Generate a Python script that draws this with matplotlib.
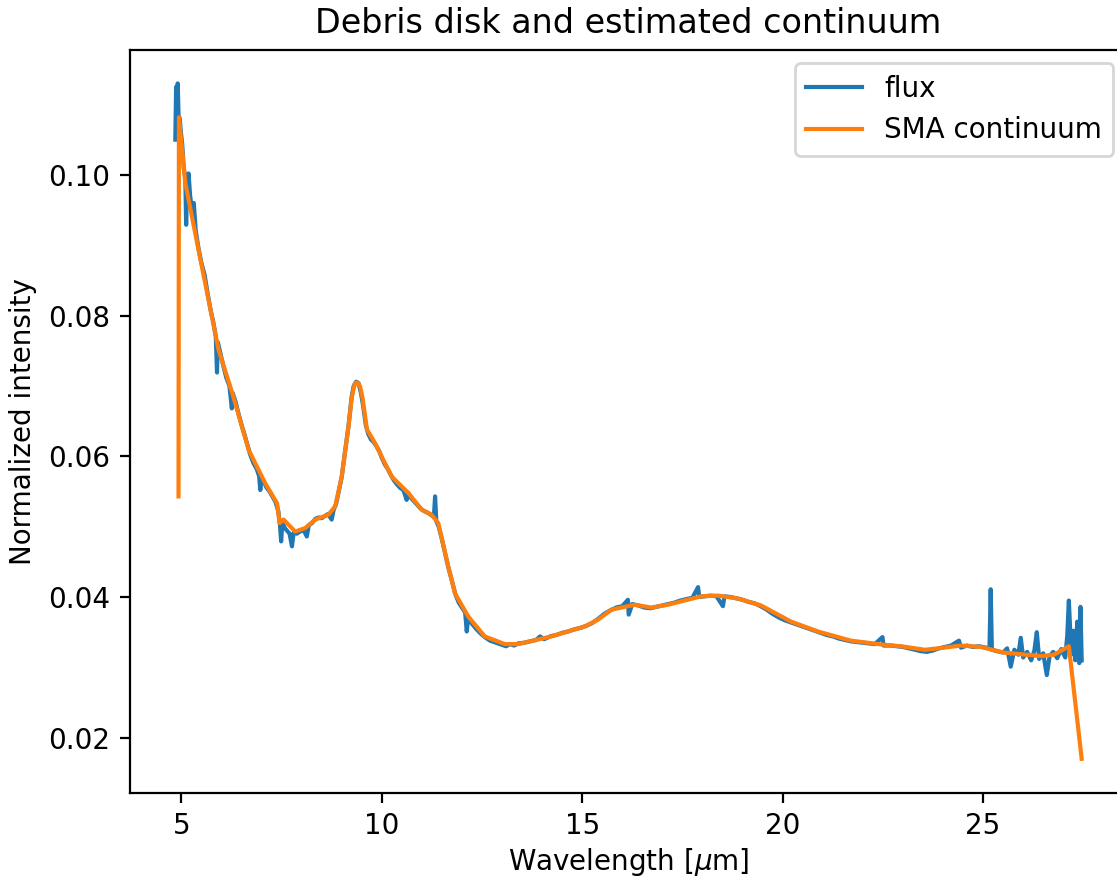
import matplotlib
matplotlib.use('Agg')
import matplotlib.pyplot as plt

wl_flux = [4.85, 4.87, 4.89, 4.91, 4.93, 4.96, 4.99, 5.02, 5.06, 5.10, 5.12, 5.14, 5.18, 5.22, 5.28, 5.31,
           5.36, 5.43, 5.50, 5.58, 5.66, 5.74, 5.80, 5.86, 5.89, 5.91, 5.98, 6.05, 6.12, 6.20, 6.26, 6.28,
           6.35, 6.42, 6.50, 6.58, 6.65, 6.72, 6.80, 6.88, 6.94, 6.97, 7.00, 7.06, 7.12, 7.20, 7.28, 7.35,
           7.42, 7.46, 7.49, 7.52, 7.58, 7.64, 7.70, 7.76, 7.80, 7.88, 7.96, 8.05, 8.13, 8.18, 8.26, 8.34,
           8.42, 8.50, 8.58, 8.66, 8.75, 8.80, 8.86, 8.92, 9.00, 9.08, 9.17, 9.25, 9.30, 9.36, 9.42, 9.48,
           9.54, 9.60, 9.66, 9.73, 9.80, 9.87, 9.94, 10.00, 10.08, 10.15, 10.22, 10.30, 10.38, 10.46, 10.54,
           10.62, 10.66, 10.74, 10.82, 10.90, 10.98, 11.06, 11.14, 11.22, 11.30, 11.33, 11.36, 11.42, 11.50,
           11.58, 11.66, 11.74, 11.83, 11.92, 12.00, 12.08, 12.12, 12.16, 12.25, 12.35, 12.45, 12.57, 12.70,
           12.85, 13.00, 13.10, 13.20, 13.30, 13.40, 13.55, 13.70, 13.85, 13.95, 14.05, 14.20, 14.35, 14.50,
           14.65, 14.80, 14.95, 15.10, 15.25, 15.40, 15.55, 15.70, 15.85, 16.00, 16.14, 16.16, 16.25, 16.40,
           16.55, 16.70, 16.85, 17.00, 17.15, 17.30, 17.45, 17.60, 17.75, 17.89, 17.92, 18.05, 18.20, 18.35,
           18.51, 18.55, 18.70, 18.85, 19.00, 19.15, 19.30, 19.45, 19.60, 19.75, 19.90, 20.05, 20.20, 20.35,
           20.50, 20.65, 20.80, 20.95, 21.10, 21.25, 21.40, 21.55, 21.70, 21.85, 22.00, 22.15, 22.30, 22.49,
           22.52, 22.70, 22.85, 23.00, 23.15, 23.30, 23.45, 23.60, 23.75, 23.90, 24.05, 24.20, 24.40, 24.45,
           24.60, 24.75, 24.90, 25.16, 25.19, 25.22, 25.35, 25.50, 25.60, 25.69, 25.78, 25.88, 25.94, 26.00,
           26.10, 26.20, 26.28, 26.34, 26.40, 26.50, 26.59, 26.66, 26.75, 26.85, 26.95, 27.05, 27.10, 27.14,
           27.20, 27.25, 27.30, 27.35, 27.40, 27.43, 27.46]
flux = [0.1050, 0.1125, 0.1070, 0.1130, 0.1085, 0.1080, 0.1060, 0.1045, 0.1010, 0.0995, 0.0929, 0.0985,
        0.1002, 0.0970, 0.0945, 0.0960, 0.0920, 0.0895, 0.0875, 0.0858, 0.0830, 0.0805, 0.0790, 0.0770,
        0.0719, 0.0762, 0.0745, 0.0728, 0.0712, 0.0700, 0.0668, 0.0690, 0.0678, 0.0662, 0.0645, 0.0630,
        0.0616, 0.0602, 0.0590, 0.0582, 0.0572, 0.0552, 0.0568, 0.0564, 0.0556, 0.0550, 0.0542, 0.0535,
        0.0522, 0.0503, 0.0479, 0.0507, 0.0498, 0.0494, 0.0490, 0.0472, 0.0491, 0.0490, 0.0493, 0.0495,
        0.0486, 0.0502, 0.0505, 0.0511, 0.0513, 0.0512, 0.0515, 0.0518, 0.0510, 0.0524, 0.0532, 0.0548,
        0.0570, 0.0605, 0.0643, 0.0685, 0.0700, 0.0706, 0.0704, 0.0690, 0.0670, 0.0645, 0.0632, 0.0624,
        0.0620, 0.0614, 0.0607, 0.0598, 0.0588, 0.0582, 0.0574, 0.0566, 0.0560, 0.0555, 0.0552, 0.0538,
        0.0548, 0.0540, 0.0535, 0.0530, 0.0525, 0.0522, 0.0520, 0.0517, 0.0514, 0.0543, 0.0508, 0.0500,
        0.0482, 0.0462, 0.0442, 0.0425, 0.0405, 0.0392, 0.0385, 0.0378, 0.0351, 0.0372, 0.0362, 0.0355,
        0.0349, 0.0343, 0.0338, 0.0335, 0.0332, 0.0330, 0.0333, 0.0331, 0.0334, 0.0335, 0.0337, 0.0339,
        0.0344, 0.0340, 0.0344, 0.0346, 0.0349, 0.0351, 0.0354, 0.0356, 0.0359, 0.0363, 0.0369, 0.0376,
        0.0381, 0.0385, 0.0387, 0.0396, 0.0375, 0.0390, 0.0388, 0.0385, 0.0384, 0.0386, 0.0388, 0.0390,
        0.0392, 0.0395, 0.0397, 0.0399, 0.0414, 0.0400, 0.0401, 0.0402, 0.0401, 0.0387, 0.0401, 0.0400,
        0.0398, 0.0396, 0.0393, 0.0391, 0.0387, 0.0382, 0.0376, 0.0371, 0.0367, 0.0364, 0.0361, 0.0358,
        0.0355, 0.0352, 0.0349, 0.0346, 0.0344, 0.0341, 0.0339, 0.0337, 0.0336, 0.0335, 0.0334, 0.0333,
        0.0343, 0.0331, 0.0331, 0.0330, 0.0329, 0.0327, 0.0325, 0.0323, 0.0322, 0.0324, 0.0327, 0.0329,
        0.0331, 0.0338, 0.0328, 0.0331, 0.0329, 0.0330, 0.0327, 0.0411, 0.0325, 0.0323, 0.0321, 0.0327,
        0.0301, 0.0325, 0.0318, 0.0342, 0.0314, 0.0322, 0.0310, 0.0324, 0.0350, 0.0312, 0.0320, 0.0289,
        0.0316, 0.0322, 0.0313, 0.0326, 0.0314, 0.0345, 0.0395, 0.0318, 0.0352, 0.0310, 0.0365, 0.0306,
        0.0386, 0.0310]

# simple moving average continuum
wl_cont = [4.93, 4.94, 5.10, 5.43, 5.93, 6.27, 6.68, 7.09, 7.39, 7.45, 7.55, 7.84, 8.09, 8.34, 8.67,
           8.84, 9.00, 9.17, 9.25, 9.33, 9.40, 9.46, 9.52, 9.63, 9.83, 10.08, 10.25, 10.66, 11.00, 11.24,
           11.41, 11.66, 11.83, 12.16, 12.57, 13.07, 13.40, 14.23, 15.06, 15.40, 15.73, 16.31, 16.72,
           17.14, 17.97, 18.38, 18.88, 19.46, 20.21, 20.88, 21.70, 22.54, 22.95, 23.55, 23.87, 24.45,
           24.94, 25.52, 26.44, 26.77, 27.14, 27.46]
cont = [0.0543, 0.1082, 0.0988, 0.0893, 0.0751, 0.0690, 0.0609, 0.0562, 0.0533, 0.0505, 0.0510, 0.0493,
        0.0498, 0.0510, 0.0517, 0.0529, 0.0571, 0.0642, 0.0683, 0.0704, 0.0705, 0.0699, 0.0683, 0.0638,
        0.0619, 0.0590, 0.0571, 0.0548, 0.0524, 0.0517, 0.0505, 0.0443, 0.0405, 0.0372, 0.0344, 0.0333,
        0.0333, 0.0344, 0.0358, 0.0368, 0.0382, 0.0389, 0.0385, 0.0389, 0.0401, 0.0402, 0.0398, 0.0388,
        0.0365, 0.0351, 0.0338, 0.0332, 0.0330, 0.0325, 0.0327, 0.0331, 0.0329, 0.0321, 0.0316, 0.0318,
        0.0330, 0.0170]

fig = plt.figure(figsize=(11.17 / 2, 8.8 / 2), dpi=200)
ax = fig.add_axes([130 / 1117, 87.4 / 880, 997 / 1117, 743 / 880])
ax.plot(wl_flux, flux, label='flux')
ax.plot(wl_cont, cont, label='SMA continuum')
ax.legend()
ax.set_title('Debris disk and estimated continuum')
ax.set_xlabel(r'Wavelength [$\mu$m]', labelpad=2)
ax.set_ylabel('Normalized intensity')
fig.savefig('out.png', dpi=200)
